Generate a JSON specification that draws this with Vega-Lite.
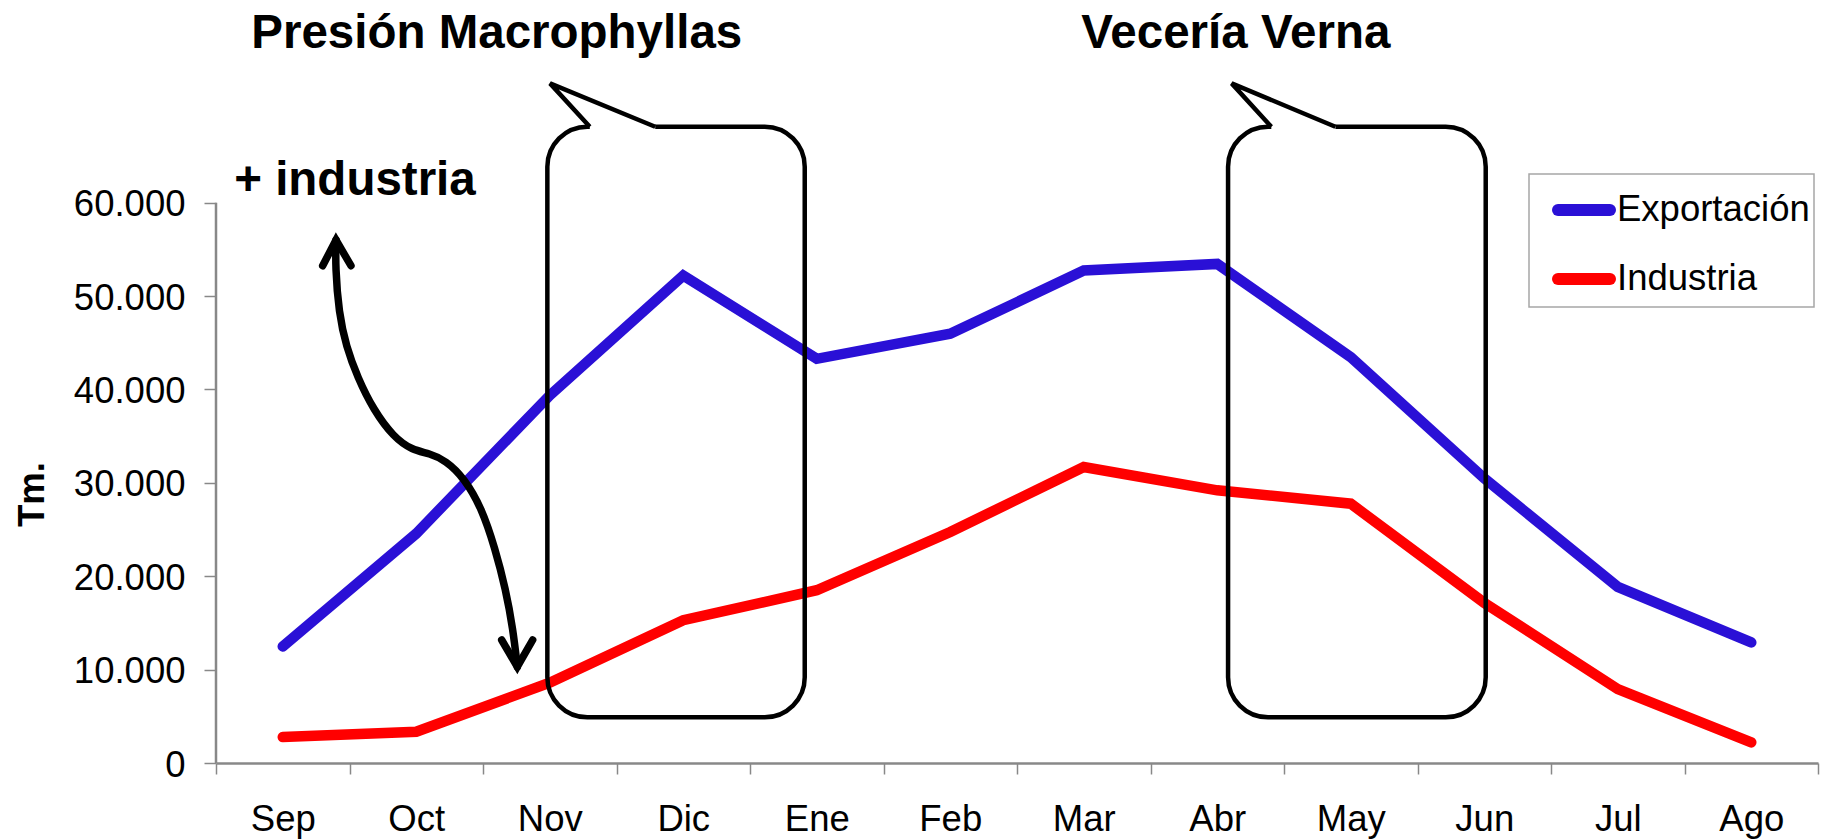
{
  "$schema": "https://vega.github.io/schema/vega-lite/v6.json",
  "autosize": {"type": "none"},
  "width": 1602,
  "height": 763,
  "padding": {"left": 216, "top": 0, "right": 7, "bottom": 76},
  "background": "white",
  "config": {
    "view": {"stroke": null},
    "font": "Liberation Sans",
    "axisY": {
      "domain": false,
      "grid": false,
      "tickColor": "#888888",
      "tickWidth": 1.5,
      "tickSize": 12,
      "labelFont": "Liberation Sans",
      "labelFontSize": 36.5,
      "labelColor": "#000000",
      "labelPadding": 19,
      "labelOffset": 2,
      "titleFont": "Liberation Sans",
      "titleFontSize": 36.5,
      "titleFontWeight": "bold",
      "titleColor": "#000000",
      "titleBaseline": "alphabetic",
      "titleAngle": 270,
      "titleX": -173,
      "titleY": 494
    }
  },
  "datasets": {
    "series": [
      {"mes": "Sep", "serie": "Exportación", "tm": 12480},
      {"mes": "Oct", "serie": "Exportación", "tm": 24570},
      {"mes": "Nov", "serie": "Exportación", "tm": 39360},
      {"mes": "Dic", "serie": "Exportación", "tm": 52190},
      {"mes": "Ene", "serie": "Exportación", "tm": 43280},
      {"mes": "Feb", "serie": "Exportación", "tm": 45960},
      {"mes": "Mar", "serie": "Exportación", "tm": 52730},
      {"mes": "Abr", "serie": "Exportación", "tm": 53440},
      {"mes": "May", "serie": "Exportación", "tm": 43460},
      {"mes": "Jun", "serie": "Exportación", "tm": 30480},
      {"mes": "Jul", "serie": "Exportación", "tm": 18860},
      {"mes": "Ago", "serie": "Exportación", "tm": 12910},
      {"mes": "Sep", "serie": "Industria", "tm": 2780},
      {"mes": "Oct", "serie": "Industria", "tm": 3350},
      {"mes": "Nov", "serie": "Industria", "tm": 8600},
      {"mes": "Dic", "serie": "Industria", "tm": 15290},
      {"mes": "Ene", "serie": "Industria", "tm": 18500},
      {"mes": "Feb", "serie": "Industria", "tm": 24740},
      {"mes": "Mar", "serie": "Industria", "tm": 31690},
      {"mes": "Abr", "serie": "Industria", "tm": 29200},
      {"mes": "May", "serie": "Industria", "tm": 27770},
      {"mes": "Jun", "serie": "Industria", "tm": 17150},
      {"mes": "Jul", "serie": "Industria", "tm": 7910},
      {"mes": "Ago", "serie": "Industria", "tm": 2210}
    ],
    "yaxisline": [{"xq": 0, "yq": 0, "yq2": 60000}],
    "boxes": [
      {"id": "macrophyllas", "xq": 2.482, "xq2": 4.41, "yq": 68130, "yq2": 4893},
      {"id": "verna", "xq": 7.581, "xq2": 9.511, "yq": 68130, "yq2": 4893}
    ],
    "gaps": [
      {"id": "macrophyllas", "xq": 2.8, "xq2": 3.29, "yq": 68130},
      {"id": "verna", "xq": 7.905, "xq2": 8.385, "yq": 68130}
    ],
    "tails": [
      {"id": "macrophyllas", "k": 1, "xq": 2.8, "yq": 68130},
      {"id": "macrophyllas", "k": 2, "xq": 2.502, "yq": 72773},
      {"id": "macrophyllas", "k": 3, "xq": 3.29, "yq": 68130},
      {"id": "verna", "k": 1, "xq": 7.905, "yq": 68130},
      {"id": "verna", "k": 2, "xq": 7.608, "yq": 72773},
      {"id": "verna", "k": 3, "xq": 8.385, "yq": 68130}
    ],
    "curve": [
      {"k": 1, "xq": 0.899, "yq": 55998},
      {"k": 2, "xq": 0.894, "yq": 53140},
      {"k": 3, "xq": 0.92, "yq": 48200},
      {"k": 4, "xq": 0.975, "yq": 44600},
      {"k": 5, "xq": 1.06, "yq": 41300},
      {"k": 6, "xq": 1.18, "yq": 37800},
      {"k": 7, "xq": 1.33, "yq": 34900},
      {"k": 8, "xq": 1.47, "yq": 33500},
      {"k": 9, "xq": 1.6, "yq": 33150},
      {"k": 10, "xq": 1.72, "yq": 32400},
      {"k": 11, "xq": 1.86, "yq": 30500},
      {"k": 12, "xq": 1.99, "yq": 27300},
      {"k": 13, "xq": 2.09, "yq": 23000},
      {"k": 14, "xq": 2.17, "yq": 18600},
      {"k": 15, "xq": 2.225, "yq": 14300},
      {"k": 16, "xq": 2.257, "yq": 10311}
    ],
    "heads": [
      {"id": "top", "k": 1, "xq": 0.799, "yq": 53246},
      {"id": "top", "k": 2, "xq": 0.899, "yq": 55998},
      {"id": "top", "k": 3, "xq": 1.011, "yq": 53246},
      {"id": "bottom", "k": 1, "xq": 2.14, "yq": 13170},
      {"id": "bottom", "k": 2, "xq": 2.257, "yq": 10311},
      {"id": "bottom", "k": 3, "xq": 2.372, "yq": 13170}
    ],
    "labels": [
      {"texto": "Presión Macrophyllas", "xq": 2.103, "yq": 76523},
      {"texto": "Vecería Verna", "xq": 7.639, "yq": 76523},
      {"texto": "+ industria", "xq": 1.041, "yq": 60816}
    ]
  },
  "layer": [
    {
      "data": {"name": "series"},
      "mark": {"type": "line", "strokeWidth": 10.5, "strokeCap": "round", "strokeJoin": "miter"},
      "encoding": {
        "x": {
          "field": "mes",
          "type": "ordinal",
          "sort": ["Sep", "Oct", "Nov", "Dic", "Ene", "Feb", "Mar", "Abr", "May", "Jun", "Jul", "Ago"],
          "scale": {"type": "band", "paddingInner": 0, "paddingOuter": 0},
          "axis": {
            "title": null,
            "tickBand": "extent",
            "domainColor": "#888888",
            "domainWidth": 2.5,
            "tickColor": "#888888",
            "tickWidth": 1.5,
            "tickSize": 11,
            "labelFont": "Liberation Sans",
            "labelFontSize": 36.5,
            "labelColor": "#000000",
            "labelBaseline": "alphabetic",
            "labelPadding": 56,
            "labelAngle": 0,
            "grid": false
          }
        },
        "y": {
          "field": "tm",
          "type": "quantitative",
          "title": "Tm.",
          "scale": {"domain": [0, 81700], "nice": false, "zero": true},
          "axis": {
            "values": [0, 10000, 20000, 30000, 40000, 50000, 60000],
            "labelExpr": "replace(format(datum.value, ','), ',', '.')"
          }
        },
        "color": {
          "field": "serie",
          "type": "nominal",
          "scale": {"domain": ["Exportación", "Industria"], "range": ["#2A10D6", "#FF0000"]},
          "legend": {
            "title": null,
            "orient": "none",
            "legendX": 1313,
            "legendY": 174,
            "symbolType": "stroke",
            "symbolSize": 2704,
            "symbolStrokeWidth": 12,
            "symbolOffset": 19,
            "padding": 4,
            "rowPadding": 13,
            "labelFont": "Liberation Sans",
            "labelFontSize": 36.5,
            "labelColor": "#000000",
            "labelOffset": 1,
            "labelLimit": 400,
            "strokeColor": "#a6a6a6",
            "encode": {
              "symbols": {"update": {"strokeCap": {"value": "round"}}},
              "legend": {"update": {"strokeWidth": {"value": 1.5}}}
            }
          }
        }
      }
    },
    {
      "layer": [
        {
          "data": {"name": "yaxisline"},
          "mark": {"type": "rule", "color": "#888888", "strokeWidth": 2.5},
          "encoding": {
            "x": {"field": "xq", "type": "quantitative", "scale": {"domain": [0, 12], "nice": false, "zero": false}, "axis": null},
            "y": {"field": "yq", "type": "quantitative", "title": "Tm.", "scale": {"domain": [0, 81700], "nice": false}},
            "y2": {"field": "yq2"}
          }
        },
        {
          "data": {"name": "boxes"},
          "mark": {"type": "rect", "fill": null, "fillOpacity": 0, "stroke": "#000000", "strokeWidth": 4.5, "cornerRadius": 40},
          "encoding": {
            "x": {"field": "xq", "type": "quantitative", "scale": {"domain": [0, 12], "nice": false, "zero": false}, "axis": null},
            "x2": {"field": "xq2"},
            "y": {"field": "yq", "type": "quantitative", "title": "Tm.", "scale": {"domain": [0, 81700], "nice": false}},
            "y2": {"field": "yq2"}
          }
        },
        {
          "data": {"name": "gaps"},
          "mark": {"type": "rule", "color": "#ffffff", "strokeWidth": 8},
          "encoding": {
            "x": {"field": "xq", "type": "quantitative", "scale": {"domain": [0, 12], "nice": false, "zero": false}, "axis": null},
            "x2": {"field": "xq2"},
            "y": {"field": "yq", "type": "quantitative", "title": "Tm.", "scale": {"domain": [0, 81700], "nice": false}}
          }
        },
        {
          "data": {"name": "tails"},
          "mark": {"type": "line", "color": "#000000", "strokeWidth": 4.5, "strokeJoin": "miter"},
          "encoding": {
            "x": {"field": "xq", "type": "quantitative", "scale": {"domain": [0, 12], "nice": false, "zero": false}, "axis": null},
            "y": {"field": "yq", "type": "quantitative", "title": "Tm.", "scale": {"domain": [0, 81700], "nice": false}},
            "detail": {"field": "id"},
            "order": {"field": "k"}
          }
        },
        {
          "data": {"name": "curve"},
          "mark": {"type": "line", "color": "#000000", "strokeWidth": 7.5, "strokeCap": "round", "interpolate": "basis"},
          "encoding": {
            "x": {"field": "xq", "type": "quantitative", "scale": {"domain": [0, 12], "nice": false, "zero": false}, "axis": null},
            "y": {"field": "yq", "type": "quantitative", "title": "Tm.", "scale": {"domain": [0, 81700], "nice": false}},
            "order": {"field": "k"}
          }
        },
        {
          "data": {"name": "heads"},
          "mark": {"type": "line", "color": "#000000", "strokeWidth": 7.5, "strokeCap": "round", "strokeJoin": "miter"},
          "encoding": {
            "x": {"field": "xq", "type": "quantitative", "scale": {"domain": [0, 12], "nice": false, "zero": false}, "axis": null},
            "y": {"field": "yq", "type": "quantitative", "title": "Tm.", "scale": {"domain": [0, 81700], "nice": false}},
            "detail": {"field": "id"},
            "order": {"field": "k"}
          }
        },
        {
          "data": {"name": "labels"},
          "mark": {"type": "text", "font": "Liberation Sans", "fontSize": 47.5, "fontWeight": "bold", "color": "#000000", "align": "center", "baseline": "alphabetic"},
          "encoding": {
            "x": {"field": "xq", "type": "quantitative", "scale": {"domain": [0, 12], "nice": false, "zero": false}, "axis": null},
            "y": {"field": "yq", "type": "quantitative", "title": "Tm.", "scale": {"domain": [0, 81700], "nice": false}},
            "text": {"field": "texto"}
          }
        }
      ]
    }
  ],
  "resolve": {"scale": {"x": "independent"}, "axis": {"x": "independent"}}
}
